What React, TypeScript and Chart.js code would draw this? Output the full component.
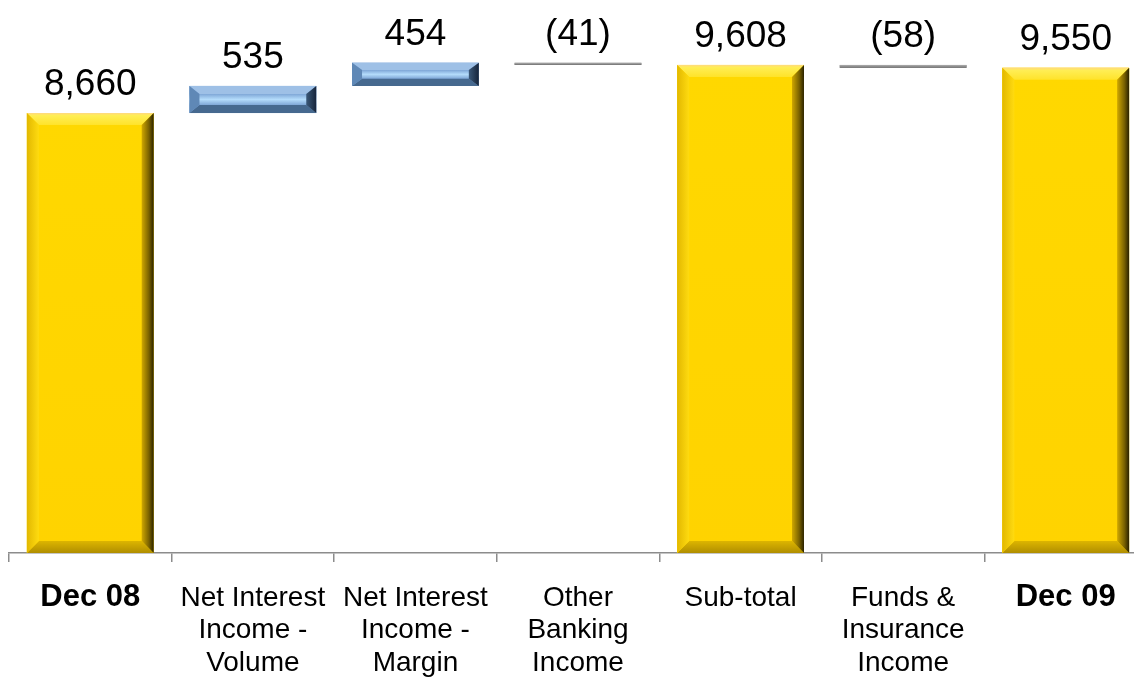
import React, { useEffect, useRef } from 'react';
import { Chart, registerables } from 'chart.js';

Chart.register(...registerables);

const categories: string[][] = [
  ['Dec 08'],
  ['Net Interest', 'Income -', 'Volume'],
  ['Net Interest', 'Income -', 'Margin'],
  ['Other', 'Banking', 'Income'],
  ['Sub-total'],
  ['Funds &', 'Insurance', 'Income'],
  ['Dec 09'],
];
const deltas: number[] = [8660, 535, 454, -41, 9608, -58, 9550];
const kinds: string[] = ['total', 'up', 'up', 'down', 'total', 'down', 'total'];
const boldLabels: boolean[] = [true, false, false, false, false, false, true];
const valueLabels: string[] = ['8,660', '535', '454', '(41)', '9,608', '(58)', '9,550'];
const yMin = 0;
const yMax = 10000;

const FONT = '"Liberation Sans", Arial, Helvetica, sans-serif';

const ranges: number[][] = (() => {
  let running = 0;
  return deltas.map((v, i) => {
    if (kinds[i] === 'total') {
      running = v;
      return [0, v];
    }
    const start = running;
    running += v;
    return [start, running];
  });
})();

const baseColors: Record<string, string> = {
  total: '#FFD600',
  up: '#86AEDD',
  down: '#8A8A8A',
};

function poly(ctx: CanvasRenderingContext2D, pts: number[][], fill: string | CanvasGradient) {
  ctx.beginPath();
  ctx.moveTo(pts[0][0], pts[0][1]);
  for (let i = 1; i < pts.length; i++) ctx.lineTo(pts[i][0], pts[i][1]);
  ctx.closePath();
  ctx.fillStyle = fill;
  ctx.fill();
}

const bevelPlugin = {
  id: 'bevel',
  afterDatasetsDraw(chart: any) {
    const ctx: CanvasRenderingContext2D = chart.ctx;
    const meta = chart.getDatasetMeta(0);
    ctx.save();
    meta.data.forEach((bar: any, i: number) => {
      const p = bar.getProps(['x', 'y', 'base', 'width'], true);
      const left = p.x - p.width / 2;
      const right = p.x + p.width / 2;
      const top = Math.min(p.y, p.base);
      const bottom = Math.max(p.y, p.base);
      const h = bottom - top;
      const kind = kinds[i];
      if (h < 6) {
        const g = ctx.createLinearGradient(0, top, 0, bottom);
        g.addColorStop(0, '#B0B0B0');
        g.addColorStop(1, '#707070');
        ctx.fillStyle = g;
        ctx.fillRect(left, top, right - left, Math.max(h, 2));
        return;
      }
      if (kind === 'total') {
        const b = 12;
        const fg = ctx.createLinearGradient(0, top, 0, bottom);
        fg.addColorStop(0, '#FFD800');
        fg.addColorStop(1, '#FFD300');
        ctx.fillStyle = fg;
        ctx.fillRect(left, top, right - left, h);
        const tg = ctx.createLinearGradient(0, top, 0, top + b);
        tg.addColorStop(0, '#FFD880');
        tg.addColorStop(0.2, '#FFEE55');
        tg.addColorStop(1, '#FFE32A');
        poly(ctx, [[left, top], [right, top], [right - b, top + b], [left + b, top + b]], tg);
        const bg = ctx.createLinearGradient(0, bottom - b, 0, bottom);
        bg.addColorStop(0, '#DDB500');
        bg.addColorStop(1, '#B08E00');
        poly(ctx, [[left, bottom], [right, bottom], [right - b, bottom - b], [left + b, bottom - b]], bg);
        const lg = ctx.createLinearGradient(left, 0, left + b, 0);
        lg.addColorStop(0, '#E2B800');
        lg.addColorStop(1, '#FFDB10');
        poly(ctx, [[left, top], [left + b, top + b], [left + b, bottom - b], [left, bottom]], lg);
        const rg = ctx.createLinearGradient(right - b, 0, right, 0);
        rg.addColorStop(0, '#D0A800');
        rg.addColorStop(0.6, '#7A6200');
        rg.addColorStop(1, '#2A2200');
        poly(ctx, [[right, top], [right, bottom], [right - b, bottom - b], [right - b, top + b]], rg);
      } else {
        const bx = 10;
        const by = Math.min(8, h / 3.2);
        const fg = ctx.createLinearGradient(0, top + by, 0, bottom - by);
        fg.addColorStop(0, '#7EA6D6');
        fg.addColorStop(0.5, '#B4DCFB');
        fg.addColorStop(1, '#7EA6D6');
        ctx.fillStyle = fg;
        ctx.fillRect(left, top, right - left, h);
        poly(ctx, [[left, top], [right, top], [right - bx, top + by], [left + bx, top + by]], '#9EC0E6');
        poly(ctx, [[left, bottom], [right, bottom], [right - bx, bottom - by], [left + bx, bottom - by]], '#46698F');
        poly(ctx, [[left, top], [left + bx, top + by], [left + bx, bottom - by], [left, bottom]], '#5F88B6');
        const rg = ctx.createLinearGradient(right - bx, 0, right, 0);
        rg.addColorStop(0, '#3A5878');
        rg.addColorStop(1, '#16243A');
        poly(ctx, [[right, top], [right, bottom], [right - bx, bottom - by], [right - bx, top + by]], rg);
      }
    });
    ctx.restore();
  },
};

const labelPlugin = {
  id: 'valueLabels',
  afterDatasetsDraw(chart: any) {
    const ctx: CanvasRenderingContext2D = chart.ctx;
    const meta = chart.getDatasetMeta(0);
    ctx.save();
    ctx.font = `37px ${FONT}`;
    ctx.fillStyle = '#000000';
    ctx.textAlign = 'center';
    ctx.textBaseline = 'alphabetic';
    meta.data.forEach((bar: any, i: number) => {
      const p = bar.getProps(['x', 'y', 'base'], true);
      const top = Math.min(p.y, p.base);
      ctx.fillText(valueLabels[i], p.x, top - 18);
    });
    ctx.restore();
  },
};

export default function App() {
  const canvasRef = useRef<HTMLCanvasElement | null>(null);

  useEffect(() => {
    if (!canvasRef.current) return;
    const chart = new Chart(canvasRef.current, {
      type: 'bar',
      data: {
        labels: categories,
        datasets: [
          {
            data: ranges as any,
            backgroundColor: kinds.map((k) => baseColors[k]),
            borderWidth: 0,
            barPercentage: 0.78,
            categoryPercentage: 1,
          },
        ],
      },
      options: {
        responsive: false,
        animation: false,
        layout: { padding: { top: 45, left: 9, right: 0, bottom: 0 } },
        plugins: {
          legend: { display: false },
          tooltip: { enabled: false },
          title: { display: false },
        },
        scales: {
          y: { display: false, min: yMin, max: yMax },
          x: {
            offset: true,
            afterFit: (scale: any) => {
              scale.height = 124;
            },
            border: { display: true, color: '#8C8C8C', width: 1.5 },
            grid: {
              display: true,
              drawOnChartArea: false,
              drawTicks: true,
              tickLength: 9,
              color: '#8C8C8C',
              lineWidth: 1.5,
              offset: true,
            },
            ticks: {
              color: '#000000',
              padding: 20,
              maxRotation: 0,
              autoSkip: false,
              font: (c: any) =>
                boldLabels[c.index]
                  ? { family: FONT, size: 31, weight: 'bold', lineHeight: 1.0 }
                  : { family: FONT, size: 28, lineHeight: 1.16 },
            },
          },
        },
      },
      plugins: [bevelPlugin, labelPlugin],
    });
    return () => chart.destroy();
  }, []);

  return (
    <div
      style={{
        position: 'fixed',
        left: 0,
        top: 0,
        width: 1134,
        height: 677,
        overflow: 'hidden',
        background: '#ffffff',
      }}
    >
      <canvas ref={canvasRef} width={1147} height={677} style={{ display: 'block' }} />
    </div>
  );
}
